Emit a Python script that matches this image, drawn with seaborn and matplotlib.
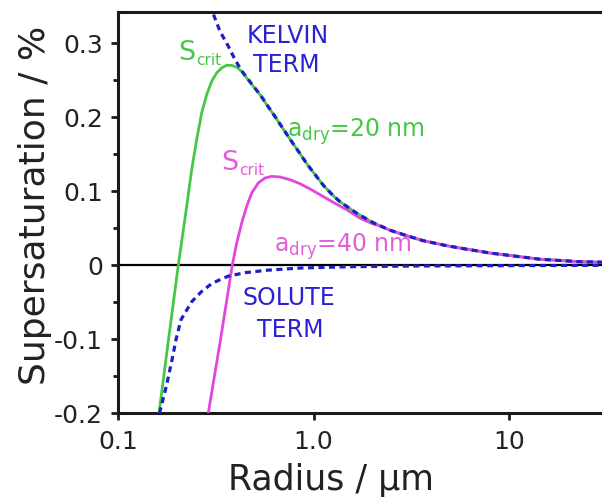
import numpy as np
import pandas as pd
import matplotlib
matplotlib.use("Agg")
import matplotlib.pyplot as plt
import seaborn as sns

# ---- data ----
green_r = [0.1616, 0.1807, 0.2029, 0.2240, 0.2376, 0.2520, 0.2673, 0.2836, 0.3008, 0.3191,
           0.3384, 0.3589, 0.3808, 0.4040, 0.4284, 0.4545, 0.4912, 0.5315, 0.5754, 0.6345,
           0.6998, 0.7727, 0.8519, 0.922, 1.037, 1.121, 1.261, 1.365, 1.536, 1.663,
           1.870, 2.022, 2.461, 2.998, 3.646, 4.80, 5.618, 8.0, 14.43, 23.1, 30.0]
green_s = [-0.1997, -0.1007, 0.000, 0.0795, 0.1291, 0.1696, 0.2057, 0.2304, 0.2484, 0.2597,
           0.2665, 0.2700, 0.2700, 0.2673, 0.2619, 0.2530, 0.2416, 0.2304, 0.2169, 0.2007,
           0.1838, 0.1669, 0.1507, 0.1372, 0.1196, 0.1081, 0.0939, 0.0858, 0.0764, 0.0703,
           0.0624, 0.0574, 0.0473, 0.0399, 0.0331, 0.0264, 0.0232, 0.0165, 0.0081, 0.0047, 0.0041]

magenta_r = [0.2890, 0.3337, 0.3834, 0.4040, 0.4284, 0.4545, 0.4822, 0.5213, 0.5640, 0.6104,
             0.6729, 0.7572, 0.8519, 0.9585, 1.079, 1.261, 1.477, 1.729, 2.022, 2.188,
             2.461, 2.998, 3.646, 4.80, 5.618, 8.0, 14.43, 23.1, 30.0]
magenta_s = [-0.1997, -0.1007, 0.000, 0.0300, 0.0570, 0.0795, 0.0976, 0.1111, 0.1178, 0.1200,
             0.1192, 0.1155, 0.1101, 0.1030, 0.0953, 0.0849, 0.0750, 0.0635, 0.0557, 0.0530,
             0.0473, 0.0399, 0.0331, 0.0264, 0.0232, 0.0165, 0.0081, 0.0047, 0.0041]

kelvin_r = [0.3073, 0.3317, 0.366, 0.396, 0.4284, 0.4545, 0.4912, 0.5315, 0.5754, 0.6345,
            0.6998, 0.7727, 0.8519, 0.922, 1.037, 1.121, 1.261, 1.365, 1.536, 1.663,
            1.870, 2.022, 2.461, 2.998, 3.646, 4.80, 5.618, 8.0, 14.43, 23.1, 30.0]
kelvin_s = [0.3385, 0.3160, 0.2957, 0.2777, 0.2625, 0.2536, 0.2420, 0.2307, 0.2171, 0.2009,
            0.1839, 0.1670, 0.1508, 0.1372, 0.1196, 0.1081, 0.0939, 0.0858, 0.0764, 0.0703,
            0.0624, 0.0574, 0.0473, 0.0399, 0.0331, 0.0264, 0.0232, 0.0165, 0.0081, 0.0047, 0.0041]

solute_r = [0.1625, 0.1769, 0.1884, 0.1974, 0.2094, 0.2376, 0.2673, 0.3035, 0.3645, 0.4454,
            0.5754, 0.8515, 1.536, 3.51, 30.0]
solute_s = [-0.200, -0.1615, -0.1277, -0.1007, -0.0736, -0.0493, -0.0354, -0.0241, -0.0149, -0.0101,
            -0.0068, -0.0038, -0.0020, -0.0010, -0.0001]

x_ticks = [0.1, 1.0, 10]
x_tick_labels = ["0.1", "1.0", "10"]
y_ticks = [-0.2, -0.1, 0.0, 0.1, 0.2, 0.3]
y_tick_labels = ["-0.2", "-0.1", "0", "0.1", "0.2", "0.3"]

# ---- style ----
sns.set_style("ticks")
plt.rcParams["font.family"] = ["DejaVu Sans"]
plt.rcParams["axes.unicode_minus"] = False
plt.rcParams["mathtext.default"] = "regular"

GREEN = "#46c846"
MAGENTA = "#e445dc"
BLUE = "#1e1ec8"
BLUE_TXT = "#2a22d2"
MAG_TXT = "#e35fd9"

W, H = 602, 497
fig = plt.figure(figsize=(W / 100, H / 100), dpi=100)
left, right, top, bottom = 118.3, 602, 12, 413.3
ax = fig.add_axes([left / W, 1 - bottom / H, (right - left) / W, (bottom - top) / H])

ax.axhline(0, color="black", lw=1.6, zorder=2)

sns.lineplot(x=green_r, y=green_s, ax=ax, color=GREEN, lw=2.0, sort=False, estimator=None, zorder=3)
sns.lineplot(x=magenta_r, y=magenta_s, ax=ax, color=MAGENTA, lw=2.0, sort=False, estimator=None, zorder=3)
for rr, ss in [(kelvin_r, kelvin_s), (solute_r, solute_s)]:
    ln = sns.lineplot(x=rr, y=ss, ax=ax, color=BLUE, lw=2.3, sort=False, estimator=None,
                      zorder=4).lines[-1]
    ln.set_dashes((1.9, 1.4))
    ln.set_dash_capstyle("butt")

ax.set_xscale("log")
ax.set_xlim(0.1, 30)
ax.set_ylim(-0.2, 0.342)
ax.set_xticks(x_ticks)
ax.set_xticklabels(x_tick_labels)
ax.xaxis.set_minor_locator(matplotlib.ticker.NullLocator())
ax.set_yticks(y_ticks)
ax.set_yticklabels(y_tick_labels)
ax.yaxis.set_minor_locator(matplotlib.ticker.MultipleLocator(0.05))
ax.set_xlabel("")
ax.set_ylabel("")

for s in ["left", "top", "bottom"]:
    ax.spines[s].set_linewidth(2.2)
    ax.spines[s].set_color("#1a1a1a")
ax.spines["right"].set_visible(False)
ax.tick_params(axis="both", which="major", direction="out", length=5, width=2,
               labelsize=18, colors="#1a1a1a", labelcolor="#222222")
ax.tick_params(axis="y", which="minor", direction="out", length=3.5, width=2, colors="#1a1a1a")
ax.tick_params(axis="y", which="major", pad=6)
ax.tick_params(axis="x", which="major", pad=7)


def ptext(x, y, s, **kw):
    fig.text(x / W, 1 - y / H, s, **kw)


ptext(35, 205, "Supersaturation / %", rotation=90, ha="center", va="center",
      fontsize=26, color="#222222")
ptext(331, 490, "Radius / µm", ha="center", va="baseline", fontsize=25, color="#222222")

# annotations
ptext(178, 60, "S", fontsize=19.5, color=GREEN, va="baseline")
ptext(196, 65, "crit", fontsize=11, color=GREEN, va="baseline")
ptext(221, 170, "S", fontsize=19.5, color=MAG_TXT, va="baseline")
ptext(239, 175, "crit", fontsize=11, color=MAG_TXT, va="baseline")

ptext(288, 43, "KELVIN", fontsize=17, color=BLUE_TXT, ha="center", va="baseline")
ptext(286, 72, "TERM", fontsize=17, color=BLUE_TXT, ha="center", va="baseline")
ptext(289, 305, "SOLUTE", fontsize=17, color=BLUE_TXT, ha="center", va="baseline")
ptext(290, 337, "TERM", fontsize=17, color=BLUE_TXT, ha="center", va="baseline")

ptext(287, 137, "a$_{dry}$=20 nm", fontsize=17, color=GREEN, va="baseline")
ptext(274, 252, "a$_{dry}$=40 nm", fontsize=17, color=MAG_TXT, va="baseline")

fig.savefig("out.png", dpi=100)
